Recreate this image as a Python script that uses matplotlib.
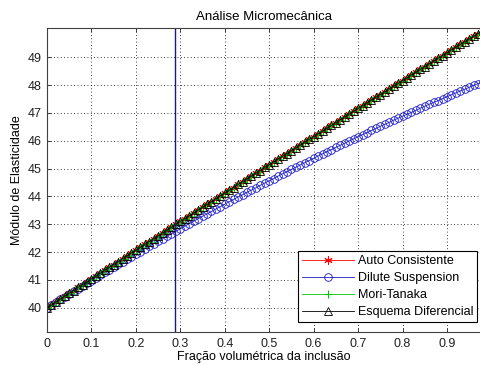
import matplotlib
matplotlib.use("Agg")
import matplotlib.pyplot as plt
import numpy as np

plt.rcParams['font.family'] = ['Liberation Sans', 'DejaVu Sans']

# fracao volumetrica da inclusao (passo 0.01)
fracao = np.round(np.arange(99) * 0.01, 2)

# modulo de elasticidade - auto consistente, mori-tanaka e esquema diferencial praticamente coincidem
modulo_superior = [
    40.00, 40.10, 40.21, 40.31, 40.42, 40.52, 40.62, 40.73, 40.83, 40.93,
    41.04, 41.14, 41.24, 41.35, 41.45, 41.55, 41.66, 41.76, 41.86, 41.97,
    42.07, 42.17, 42.28, 42.38, 42.48, 42.58, 42.69, 42.79, 42.89, 43.00,
    43.10, 43.20, 43.30, 43.40, 43.51, 43.61, 43.71, 43.81, 43.92, 44.02,
    44.12, 44.22, 44.32, 44.43, 44.53, 44.63, 44.73, 44.83, 44.93, 45.04,
    45.14, 45.24, 45.34, 45.44, 45.54, 45.64, 45.75, 45.85, 45.95, 46.05,
    46.15, 46.25, 46.35, 46.45, 46.55, 46.65, 46.76, 46.86, 46.96, 47.06,
    47.16, 47.26, 47.36, 47.46, 47.56, 47.66, 47.76, 47.86, 47.96, 48.06,
    48.16, 48.26, 48.36, 48.46, 48.56, 48.66, 48.76, 48.86, 48.96, 49.06,
    49.16, 49.26, 49.36, 49.46, 49.56, 49.65, 49.75, 49.85, 49.95]

auto_consistente = modulo_superior
mori_tanaka = modulo_superior
esquema_diferencial = modulo_superior

dilute_suspension = [
    40.00, 40.10, 40.20, 40.30, 40.40, 40.50, 40.59, 40.69, 40.79, 40.89,
    40.98, 41.08, 41.17, 41.27, 41.37, 41.46, 41.56, 41.65, 41.74, 41.84,
    41.93, 42.02, 42.12, 42.21, 42.30, 42.39, 42.48, 42.57, 42.66, 42.75,
    42.84, 42.93, 43.02, 43.11, 43.20, 43.29, 43.37, 43.46, 43.55, 43.63,
    43.72, 43.81, 43.89, 43.98, 44.06, 44.15, 44.23, 44.31, 44.40, 44.48,
    44.56, 44.64, 44.73, 44.81, 44.89, 44.97, 45.05, 45.13, 45.21, 45.29,
    45.37, 45.45, 45.53, 45.61, 45.68, 45.76, 45.84, 45.91, 45.99, 46.07,
    46.14, 46.22, 46.29, 46.37, 46.44, 46.52, 46.59, 46.66, 46.74, 46.81,
    46.88, 46.95, 47.02, 47.09, 47.17, 47.24, 47.31, 47.38, 47.44, 47.51,
    47.58, 47.65, 47.72, 47.79, 47.85, 47.92, 47.99, 48.05, 48.12]

fracao_limite = 0.288

xticks = [0, 0.1, 0.2, 0.3, 0.4, 0.5, 0.6, 0.7, 0.8, 0.9]
xticklabels = ['0', '0.1', '0.2', '0.3', '0.4', '0.5', '0.6', '0.7', '0.8', '0.9']
yticks = [40, 41, 42, 43, 44, 45, 46, 47, 48, 49]

fig = plt.figure(figsize=(4.81, 3.65), dpi=100)
ax = fig.add_axes([0.0977, 0.0904, 0.9023, 0.8329])

# asterisco de 6 bracos, como o '*' do matlab
ax.plot(fracao, auto_consistente, color='r', lw=0.6, marker=(6, 2, 0), ms=6,
        mew=0.7, label='Auto Consistente')
ax.plot(fracao, dilute_suspension, color='#1818c8', lw=0.6, marker='o', ms=5.5,
        mfc='none', mew=0.6, label='Dilute Suspension')
ax.plot(fracao, mori_tanaka, color='#00c800', lw=0.6, marker='+', ms=6,
        mew=0.8, label='Mori-Tanaka')
ax.plot(fracao, esquema_diferencial, color='k', lw=0.6, marker='^', ms=5.5,
        mfc='none', mew=0.6, label='Esquema Diferencial')

ax.axvline(fracao_limite, color='#1a1a80', lw=1.0)

ax.set_xlim(0, 0.9765)
ax.set_ylim(39.13, 50.05)
ax.set_xticks(xticks)
ax.set_xticklabels(xticklabels)
ax.set_yticks(yticks)
ax.tick_params(direction='in', top=True, right=False, length=3, width=0.6,
               labelsize=9, colors='#202020', pad=4)
ax.grid(True, color='k', linestyle=(0, (1, 3)), linewidth=0.6)
for lado in ['left', 'bottom', 'top']:
    ax.spines[lado].set_color('#404040')
    ax.spines[lado].set_linewidth(0.8)
ax.spines['right'].set_visible(False)

ax.set_title('Análise Micromecânica', fontsize=9.5, pad=6)
ax.set_xlabel('Fração volumétrica da inclusão', fontsize=9, labelpad=1)
ax.set_ylabel('Módulo de Elasticidade', fontsize=9, labelpad=3)

leg = ax.legend(loc='upper left', bbox_to_anchor=(0.578, 0.266), fontsize=9,
                fancybox=False, framealpha=1, edgecolor='k', handlelength=4.2,
                handletextpad=0.3, borderpad=0.3, labelspacing=0.4,
                borderaxespad=0)
leg.get_frame().set_linewidth(0.8)

fig.savefig('out.png', dpi=100)
